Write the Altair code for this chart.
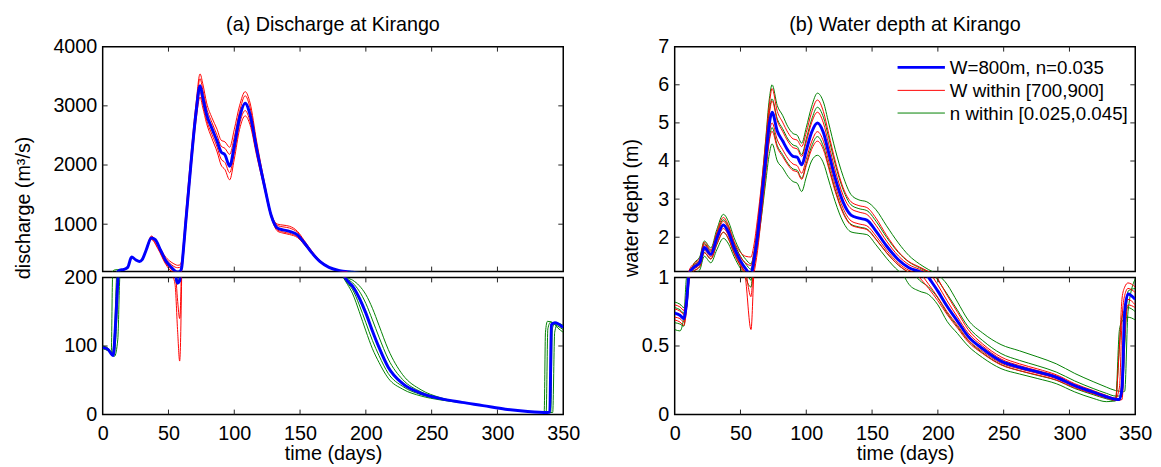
import altair as alt
import pandas as pd

BLUE = "#0000ff"
RED = "#ff0000"
GREEN = "#008000"
FONT = "Liberation Sans"

# ---------------- (a) discharge at Kirango (m3/s) ----------------
q_days = [0, 4, 8, 10, 11.7, 13, 16, 19, 22, 25,
          28, 30, 33, 37, 40, 44, 48, 52, 55, 57,
          58.5, 60, 61, 63, 67, 71, 74, 76, 79, 83,
          87, 90, 93, 96.5, 100, 104, 108.3, 112, 117, 123,
          128, 133, 137, 142, 148, 153, 159, 165, 172, 180,
          186, 190, 195, 200, 205, 210, 217, 228, 242, 256,
          273, 289, 306, 323, 332, 338, 339.8, 341, 343.6, 350]
q_main = [98, 95, 86, 140, 200, 225, 235, 270, 445, 400,
          370, 400, 560, 768, 740, 560, 380, 275, 210, 192,
          195, 260, 480, 1000, 2000, 2900, 3340, 3150, 2850, 2620,
          2400, 2220, 2170, 1980, 2320, 2800, 3045, 2850, 2270, 1640,
          1150, 930, 905, 878, 820, 690, 515, 370, 270, 215,
          195, 187, 170, 148, 122, 98, 69, 45, 31, 23.5,
          17.7, 13, 7.7, 4.3, 3.2, 2.9, 3.5, 131, 134, 127]

q_red_days = [30, 33, 37, 42, 48, 52, 55, 57, 58.5, 60,
              61, 63, 67, 71, 74, 76, 79, 83, 87, 90,
              93, 96.5, 100, 104, 108.3, 112, 117, 123, 128, 133,
              137, 142, 148, 153, 159, 165, 172, 180, 186]
q_w700 = [400, 570, 800, 660, 440, 360, 320, 305, 310, 380,
          600, 1150, 2150, 3050, 3540, 3380, 3050, 2800, 2600, 2420,
          2390, 2300, 2600, 3000, 3240, 3050, 2400, 1700, 1180, 1000,
          985, 965, 880, 730, 545, 390, 280, 220, 195]
q_w750 = [400, 565, 785, 640, 410, 320, 275, 265, 270, 330,
          540, 1080, 2080, 2980, 3460, 3280, 2960, 2720, 2500, 2320,
          2280, 2180, 2470, 2900, 3170, 2970, 2340, 1680, 1170, 975,
          955, 935, 860, 715, 535, 385, 278, 218, 195]
q_w850 = [400, 555, 750, 600, 340, 240, 215, 165, 140, 240,
          420, 930, 1930, 2820, 3230, 3050, 2760, 2520, 2300, 2100,
          2040, 1870, 2200, 2690, 2920, 2740, 2200, 1610, 1130, 900,
          870, 845, 790, 670, 505, 365, 268, 213, 195]
q_w900 = [400, 550, 740, 585, 320, 210, 190, 120, 78, 200,
          380, 880, 1880, 2760, 3150, 2980, 2700, 2450, 2220, 2000,
          1920, 1750, 2100, 2600, 2830, 2680, 2160, 1590, 1120, 880,
          850, 825, 775, 660, 500, 360, 265, 212, 195]

# green (Manning n) curves, where they separate from the main curve
qg_start_days_025 = [0, 4, 6.5, 7.5, 9, 11, 13, 16]
qg_start_025 = [96, 93, 89, 200, 226, 232, 234, 235]
qg_start_days_030 = [0, 4, 7, 9, 10.5, 12, 14, 16]
qg_start_030 = [97, 94, 88, 120, 200, 224, 232, 235]
qg_start_days_040 = [0, 4, 8.5, 10.5, 12, 13.5, 16]
qg_start_040 = [99, 96, 86, 130, 200, 224, 235]
qg_start_days_045 = [0, 4, 9, 11.5, 13, 14.5, 16.5]
qg_start_045 = [100, 97, 85, 110, 200, 224, 236]

qg_dip_days_025 = [48, 52, 55, 56.5, 58, 60, 61.5]
qg_dip_025 = [375, 265, 205, 190, 198, 300, 560]

qg_rec_days = [180, 186, 190, 195, 200, 205, 210, 217, 228, 242, 256, 273]
qg_rec_025 = [208, 190, 176, 150, 122, 96, 76, 53, 37, 27, 21.5, 17.3]
qg_rec_030 = [212, 192, 182, 160, 134, 108, 86, 60, 41, 29, 22.5, 17.5]
qg_rec_040 = [218, 198, 192, 180, 162, 138, 113, 81, 51, 33, 24, 17.8]
qg_rec_045 = [222, 200, 196, 188, 175, 155, 130, 95, 58, 36, 25, 18]

qg_end_days_025 = [323, 332, 335.5, 336.5, 338, 342, 346, 350]
qg_end_025 = [4.2, 3.0, 2.8, 120, 136, 134, 126, 120]
qg_end_days_030 = [323, 332, 337, 338.3, 340.5, 345, 350]
qg_end_030 = [4.3, 3.1, 2.9, 125, 135, 130, 124]
qg_end_days_040 = [323, 332, 340.5, 341.7, 344, 350]
qg_end_040 = [4.4, 3.3, 3.0, 125, 134, 128]
qg_end_days_045 = [323, 332, 342, 343.5, 346, 350]
qg_end_045 = [4.5, 3.4, 3.0, 120, 133, 130]

# ---------------- (b) water depth at Kirango (m) ----------------
h_days = [0, 4, 7, 9, 11, 15, 19, 22.5, 27.5, 32,
          37, 41, 45, 50, 54, 58, 60, 63, 66, 69,
          72, 74, 78, 82, 86, 90, 93, 96.5, 100, 104,
          108.5, 113, 117, 122, 128, 134, 140, 146, 153, 161,
          170, 178, 186, 193, 200, 207, 215, 223, 234, 248,
          262, 276, 290, 304, 318, 328, 335, 338, 340, 342,
          344.5, 350]
h_main = [0.74, 0.725, 0.70, 0.82, 1.05, 1.22, 1.33, 1.73, 1.55, 1.97,
          2.32, 2.12, 1.74, 1.38, 1.17, 1.02, 1.35, 2.05, 3.0, 4.0,
          5.0, 5.28, 4.78, 4.53, 4.28, 4.12, 4.1, 3.9, 4.28, 4.75,
          5.0, 4.75, 4.22, 3.55, 2.92, 2.58, 2.5, 2.45, 2.16, 1.77,
          1.41, 1.2, 1.1, 1.0, 0.9, 0.79, 0.68, 0.57, 0.48, 0.39,
          0.345, 0.31, 0.272, 0.21, 0.163, 0.13, 0.112, 0.11, 0.2, 0.75,
          0.88, 0.84]
h_w700 = [0.80, 0.785, 0.76, 0.88, 1.13, 1.32, 1.44, 1.87, 1.67, 2.13,
          2.52, 2.30, 1.90, 1.60, 1.50, 1.48, 1.75, 2.50, 3.40, 4.45,
          5.50, 5.90, 5.30, 5.02, 4.75, 4.58, 4.55, 4.38, 4.75, 5.27,
          5.60, 5.30, 4.72, 4.00, 3.30, 2.93, 2.83, 2.78, 2.50, 2.05,
          1.62, 1.36, 1.22, 1.10, 0.99, 0.87, 0.745, 0.62, 0.515, 0.42,
          0.37, 0.332, 0.29, 0.225, 0.175, 0.14, 0.12, 0.50, 0.85, 0.93,
          0.96, 0.93]
h_w750 = [0.77, 0.755, 0.73, 0.85, 1.09, 1.27, 1.38, 1.80, 1.61, 2.05,
          2.42, 2.21, 1.82, 1.48, 1.32, 1.26, 1.55, 2.28, 3.20, 4.22,
          5.25, 5.58, 5.05, 4.78, 4.52, 4.35, 4.32, 4.12, 4.50, 5.00,
          5.28, 5.00, 4.45, 3.76, 3.10, 2.75, 2.66, 2.60, 2.31, 1.90,
          1.51, 1.28, 1.16, 1.05, 0.945, 0.83, 0.71, 0.595, 0.50, 0.405,
          0.357, 0.32, 0.282, 0.217, 0.169, 0.135, 0.116, 0.20, 0.70, 0.87,
          0.92, 0.89]
h_w850 = [0.71, 0.70, 0.675, 0.79, 1.01, 1.17, 1.28, 1.66, 1.49, 1.89,
          2.23, 2.03, 1.66, 1.30, 1.05, 0.86, 1.15, 1.85, 2.80, 3.80,
          4.75, 5.00, 4.55, 4.30, 4.07, 3.92, 3.88, 3.68, 4.05, 4.50,
          4.77, 4.52, 4.00, 3.36, 2.76, 2.43, 2.35, 2.30, 2.03, 1.66,
          1.32, 1.13, 1.04, 0.95, 0.855, 0.75, 0.65, 0.545, 0.46, 0.375,
          0.333, 0.30, 0.262, 0.203, 0.157, 0.125, 0.108, 0.11, 0.30, 0.72,
          0.84, 0.80]
h_w900 = [0.69, 0.675, 0.65, 0.76, 0.97, 1.12, 1.22, 1.59, 1.43, 1.81,
          2.13, 1.95, 1.58, 1.24, 0.98, 0.62, 1.00, 1.65, 2.60, 3.60,
          4.55, 4.78, 4.35, 4.12, 3.90, 3.75, 3.72, 3.52, 3.88, 4.30,
          4.52, 4.30, 3.82, 3.20, 2.63, 2.32, 2.25, 2.20, 1.94, 1.59,
          1.27, 1.08, 1.00, 0.92, 0.83, 0.73, 0.63, 0.53, 0.445, 0.362,
          0.32, 0.288, 0.252, 0.195, 0.151, 0.12, 0.104, 0.105, 0.11, 0.55,
          0.80, 0.78]
h_n045 = [0.82, 0.805, 0.78, 0.78, 1.00, 1.33, 1.48, 1.90, 1.72, 2.20,
          2.60, 2.40, 2.00, 1.62, 1.42, 1.30, 1.55, 2.30, 3.35, 4.50,
          5.65, 6.00, 5.45, 5.20, 4.90, 4.72, 4.68, 4.47, 4.88, 5.42,
          5.78, 5.55, 5.00, 4.30, 3.60, 3.12, 2.98, 2.93, 2.72, 2.30,
          1.85, 1.52, 1.30, 1.15, 1.03, 0.95, 0.82, 0.69, 0.595, 0.51,
          0.465, 0.42, 0.37, 0.30, 0.24, 0.20, 0.175, 0.17, 0.165, 0.17,
          0.75, 0.99]
h_n040 = [0.78, 0.765, 0.74, 0.82, 1.06, 1.28, 1.40, 1.83, 1.64, 2.09,
          2.46, 2.26, 1.87, 1.50, 1.30, 1.16, 1.45, 2.20, 3.20, 4.28,
          5.33, 5.63, 5.10, 4.85, 4.58, 4.42, 4.38, 4.17, 4.58, 5.08,
          5.41, 5.15, 4.62, 3.92, 3.25, 2.85, 2.75, 2.70, 2.42, 2.00,
          1.60, 1.35, 1.20, 1.08, 0.98, 0.88, 0.76, 0.64, 0.54, 0.445,
          0.395, 0.355, 0.31, 0.245, 0.19, 0.155, 0.135, 0.135, 0.14, 0.50,
          0.90, 0.92]
h_n030 = [0.67, 0.66, 0.645, 0.85, 1.05, 1.13, 1.23, 1.60, 1.43, 1.81,
          2.13, 1.95, 1.60, 1.27, 1.08, 0.98, 1.25, 1.90, 2.78, 3.70,
          4.60, 4.88, 4.40, 4.17, 3.94, 3.79, 3.76, 3.55, 3.93, 4.38,
          4.64, 4.38, 3.88, 3.25, 2.66, 2.34, 2.27, 2.22, 1.95, 1.60,
          1.27, 1.08, 0.98, 0.93, 0.85, 0.74, 0.64, 0.54, 0.45, 0.365,
          0.32, 0.285, 0.25, 0.19, 0.145, 0.115, 0.10, 0.50, 0.72, 0.76,
          0.78, 0.75]
h_n025 = [0.62, 0.61, 0.72, 1.00, 1.05, 1.06, 1.14, 1.50, 1.33, 1.67,
          1.97, 1.82, 1.50, 1.18, 1.00, 0.93, 1.20, 1.80, 2.55, 3.40,
          4.20, 4.45, 4.00, 3.82, 3.60, 3.46, 3.42, 3.20, 3.58, 4.00,
          4.15, 3.95, 3.50, 2.93, 2.40, 2.14, 2.10, 2.07, 1.80, 1.45,
          1.12, 0.95, 0.90, 0.875, 0.80, 0.68, 0.59, 0.50, 0.415, 0.335,
          0.296, 0.262, 0.225, 0.165, 0.118, 0.094, 0.10, 0.62, 0.68, 0.70,
          0.71, 0.69]

x_ticks = [0, 50, 100, 150, 200, 250, 300, 350]
x_inner_ticks = [50, 100, 150, 200, 250, 300]
legend_labels = ["W=800m, n=0.035", "W within [700,900]", "n within [0.025,0.045]"]


def rows(days, vals, curve, fam):
    assert len(days) == len(vals), curve
    return [{"day": d, "v": v, "curve": curve, "fam": fam} for d, v in zip(days, vals)]


q_rows = rows(q_days, q_main, "main", "b")
for name, vals in [("w700", q_w700), ("w750", q_w750), ("w850", q_w850), ("w900", q_w900)]:
    q_rows += rows(q_red_days, vals, name, "r")
for name, d, v in [
    ("n025a", qg_start_days_025, qg_start_025), ("n030a", qg_start_days_030, qg_start_030),
    ("n040a", qg_start_days_040, qg_start_040), ("n045a", qg_start_days_045, qg_start_045),
    ("n025b", qg_dip_days_025, qg_dip_025),
    ("n025c", qg_rec_days, qg_rec_025), ("n030c", qg_rec_days, qg_rec_030),
    ("n040c", qg_rec_days, qg_rec_040), ("n045c", qg_rec_days, qg_rec_045),
    ("n025d", qg_end_days_025, qg_end_025), ("n030d", qg_end_days_030, qg_end_030),
    ("n040d", qg_end_days_040, qg_end_040), ("n045d", qg_end_days_045, qg_end_045),
]:
    q_rows += rows(d, v, name, "g")
df_q = pd.DataFrame(q_rows)

h_rows = rows(h_days, h_main, "main", "b")
for name, vals in [("w700", h_w700), ("w750", h_w750), ("w850", h_w850), ("w900", h_w900)]:
    h_rows += rows(h_days, vals, name, "r")
for name, vals in [("n045", h_n045), ("n040", h_n040), ("n030", h_n030), ("n025", h_n025)]:
    h_rows += rows(h_days, vals, name, "g")
df_h = pd.DataFrame(h_rows)

W = 467


def sub(df, dom, yvals, yinner, H, fmt, lower, ytitle="", ytitle_x=0, title=None, legend=False):
    if lower:
        xaxis = alt.Axis(values=x_ticks, format="d", title="time (days)", labelPadding=9,
                         labelFlush=False, labelOverlap=False, titleY=40, titleBaseline="middle")
        x = alt.X("day:Q", scale=alt.Scale(domain=[0, 350], nice=False, zero=False), axis=xaxis)
    else:
        x = alt.X("day:Q", scale=alt.Scale(domain=[0, 350], nice=False, zero=False), axis=None)
    yaxis_kw = dict(values=yvals, format=fmt, labelPadding=6, labelOverlap=False, labelFlush=False,
                    title=ytitle)
    if ytitle:
        yaxis_kw.update(titleX=ytitle_x, titleY=163, titleAngle=270, titleAlign="center",
                        titleBaseline="middle")
    y = alt.Y("v:Q", scale=alt.Scale(domain=dom, nice=False, zero=False), axis=alt.Axis(**yaxis_kw))
    layers = []
    for fam, color, w in [("g", GREEN, 1), ("r", RED, 1), ("b", BLUE, 3)]:
        layers.append(
            alt.Chart(df[df.fam == fam]).mark_line(
                clip=True, interpolate="monotone", color=color, strokeWidth=w, strokeJoin="round"
            ).encode(x=x, y=y, detail="curve:N")
        )
    xt = pd.DataFrame({"day": x_inner_ticks})
    yt = pd.DataFrame({"v": yinner})
    tick = dict(color="#222222", strokeWidth=1)
    layers.append(alt.Chart(xt).mark_rule(**tick).encode(x=x, y=alt.value(0), y2=alt.value(5)))
    layers.append(alt.Chart(xt).mark_rule(**tick).encode(x=x, y=alt.value(H - 5), y2=alt.value(H)))
    layers.append(alt.Chart(yt).mark_rule(**tick).encode(y=y, x=alt.value(0), x2=alt.value(5)))
    layers.append(alt.Chart(yt).mark_rule(**tick).encode(y=y, x=alt.value(W - 5), x2=alt.value(W)))
    if legend:
        for i, (lab, col, sw) in enumerate(zip(legend_labels, [BLUE, RED, GREEN], [3, 1, 1])):
            ly = [21, 44.3, 67.3][i]
            layers.append(
                alt.Chart(pd.DataFrame({"k": [0]})).mark_rule(color=col, strokeWidth=sw).encode(
                    x=alt.value(226), x2=alt.value(274), y=alt.value(ly))
            )
            layers.append(
                alt.Chart(pd.DataFrame({"k": [0]})).mark_text(
                    align="left", baseline="middle", fontSize=19, font=FONT, color="black"
                ).encode(x=alt.value(279), y=alt.value(ly + 1), text=alt.value(lab))
            )
    ch = alt.layer(*layers).properties(width=W, height=H)
    if title:
        ch = ch.properties(title=alt.TitleParams(title, fontSize=20, offset=-18, baseline="bottom",
                                                 anchor="middle", font=FONT, fontWeight="normal"))
    return ch


ul = sub(df_q, [200, 4000], [1000, 2000, 3000, 4000], [1000, 2000, 3000], 228, "d", False,
         ytitle="discharge (m³/s)", ytitle_x=-80, title="(a) Discharge at Kirango")
ll = sub(df_q, [0, 200], [0, 100, 200], [100], 139, "d", True)
ur = sub(df_h, [1.1, 7], [2, 3, 4, 5, 6, 7], [2, 3, 4, 5, 6], 228, "~g", False,
         ytitle="water depth (m)", ytitle_x=-44, title="(b) Water depth at Kirango", legend=True)
lr = sub(df_h, [0, 1], [0, 0.5, 1], [0.5], 139, "~g", True)

chart = alt.concat(ul, ur, ll, lr, columns=2, spacing={"row": 6, "column": 113}, bounds="flush").properties(
    padding={"left": 5, "top": 3, "right": 0, "bottom": 0}
).configure(font=FONT).configure_axis(
    labelFontSize=20, titleFontSize=20, titleFontWeight="normal", labelColor="black",
    titleColor="black", domain=False, ticks=False, tickSize=0, grid=False,
    labelFont=FONT, titleFont=FONT
).configure_view(stroke="black", strokeWidth=1.5).configure_title(
    font=FONT, fontSize=20, fontWeight="normal", color="black"
)

chart.save("out.html", embed_options={"renderer": "svg", "actions": False})
